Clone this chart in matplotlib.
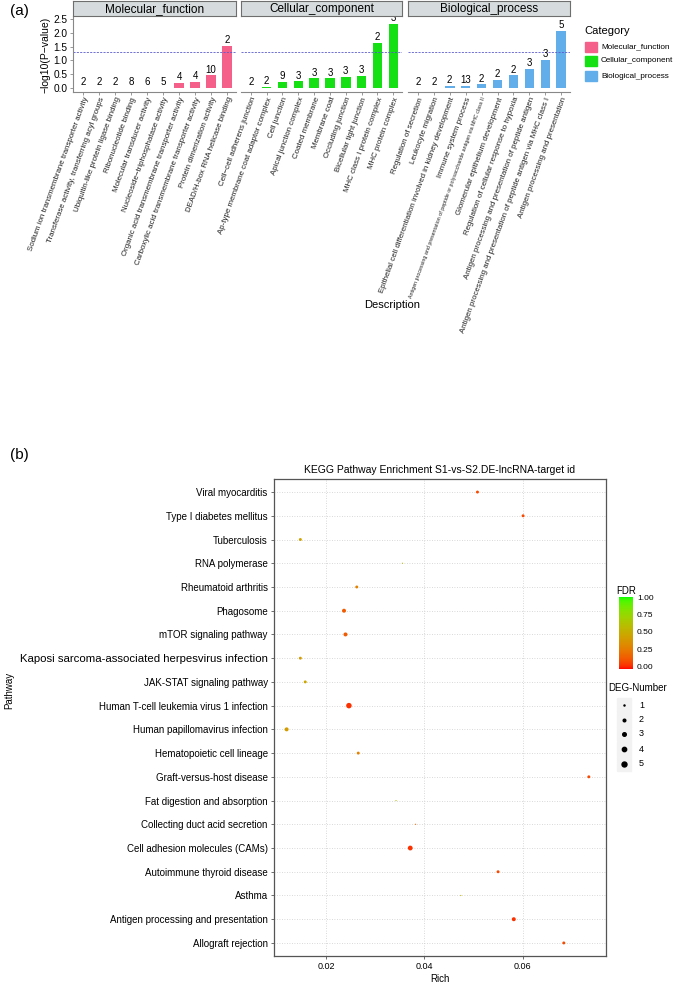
import numpy as np
import matplotlib
matplotlib.use("Agg")
import matplotlib.pyplot as plt
from matplotlib.colors import ListedColormap
from matplotlib.patches import Rectangle
from matplotlib.lines import Line2D

plt.rcParams['font.family'] = ['Liberation Sans', 'DejaVu Sans']

# ---------------- data: panel (a) ----------------
mf_terms = ["Sodium ion transmembrane transporter activity",
            "Transferase activity, transferring acyl groups",
            "Ubiquitin-like protein ligase binding",
            "Ribonucleotide binding",
            "Molecular transducer activity",
            "Nucleoside\u2212triphosphatase activity",
            "Organic acid transmembrane transporter activity",
            "Carboxylic acid transmembrane transporter activity",
            "Protein dimerization activity",
            "DEAD/H-box RNA helicase binding"]
mf_values = [0.0, 0.0, 0.0, 0.0, 0.0, 0.0, 0.2, 0.23, 0.46, 1.53]
mf_counts = [2, 2, 2, 8, 6, 5, 4, 4, 10, 2]

cc_terms = ["Cell\u2212cell adherens junction",
            "Ap-type membrane coat adaptor complex",
            "Cell junction",
            "Apical junction complex",
            "Coated membrane",
            "Membrane coat",
            "Occluding junction",
            "Bicellular tight junction",
            "MHC class I protein complex",
            "MHC protein complex"]
cc_values = [0.0, 0.03, 0.22, 0.24, 0.35, 0.35, 0.4, 0.44, 1.65, 2.33]
cc_counts = [2, 2, 9, 3, 3, 3, 3, 3, 2, 3]

bp_terms = ["Regulation of secretion",
            "Leukocyte migration",
            "Epithelial cell differentiation involved in kidney development",
            "Immune system process",
            "Antigen processing and presentation of peptide or polysaccharide antigen via MHC class II",
            "Glomerular epithelium development",
            "Regulation of cellular response to hypoxia",
            "Antigen processing and presentation of peptide antigen",
            "Antigen processing and presentation of peptide antigen via MHC class I",
            "Antigen processing and presentation"]
bp_values = [0.0, 0.0, 0.07, 0.08, 0.13, 0.29, 0.46, 0.70, 1.02, 2.07]
bp_counts = [2, 2, 2, 13, 2, 2, 2, 3, 3, 5]

categories = ["Molecular_function", "Cellular_component", "Biological_process"]
cat_colors = ["#F5608A", "#14E014", "#62AEEA"]
threshold = 1.301

# ---------------- data: panel (b) ----------------
pathways = ["Viral myocarditis", "Type I diabetes mellitus", "Tuberculosis",
            "RNA polymerase", "Rheumatoid arthritis", "Phagosome",
            "mTOR signaling pathway",
            "Kaposi sarcoma-associated herpesvirus infection",
            "JAK-STAT signaling pathway",
            "Human T-cell leukemia virus 1 infection",
            "Human papillomavirus infection", "Hematopoietic cell lineage",
            "Graft-versus-host disease", "Fat digestion and absorption",
            "Collecting duct acid secretion", "Cell adhesion molecules (CAMs)",
            "Autoimmune thyroid disease", "Asthma",
            "Antigen processing and presentation", "Allograft rejection"]
rich = [0.0508, 0.0601, 0.0147, 0.0355, 0.0262, 0.0236, 0.0239, 0.0147,
        0.0157, 0.0246, 0.0119, 0.0265, 0.0735, 0.0342, 0.0382, 0.0371,
        0.0550, 0.0474, 0.0582, 0.0684]
fdr = [0.1, 0.1, 0.45, 0.6, 0.3, 0.15, 0.15, 0.42, 0.48, 0.05, 0.42, 0.3,
       0.1, 0.6, 0.2, 0.05, 0.1, 0.55, 0.05, 0.1]
deg_number = [2, 2, 2, 1, 2, 3, 3, 2, 2, 5, 3, 2, 2, 1, 1, 4, 2, 1, 3, 2]
rich_ticks = [0.02, 0.04, 0.06]

# ---------------- helpers ----------------
W, H = 677, 989


def ax_px(l, t, r, b):
    return fig.add_axes([l / W, 1 - b / H, (r - l) / W, (b - t) / H])


def srgb_to_lab(rgb):
    c = np.asarray(rgb, float)
    lin = np.where(c <= 0.04045, c / 12.92, ((c + 0.055) / 1.055) ** 2.4)
    M = np.array([[0.4124, 0.3576, 0.1805], [0.2126, 0.7152, 0.0722],
                  [0.0193, 0.1192, 0.9505]])
    xyz = M @ lin / np.array([0.95047, 1.0, 1.08883])
    f = np.where(xyz > 0.008856, np.cbrt(xyz), 7.787 * xyz + 16 / 116)
    return np.array([116 * f[1] - 16, 500 * (f[0] - f[1]), 200 * (f[1] - f[2])])


def lab_to_srgb(lab):
    L, a, b = lab
    fy = (L + 16) / 116
    fx = fy + a / 500
    fz = fy - b / 200
    f = np.array([fx, fy, fz])
    xyz = np.where(f ** 3 > 0.008856, f ** 3, (f - 16 / 116) / 7.787)
    xyz = xyz * np.array([0.95047, 1.0, 1.08883])
    Mi = np.array([[3.2406, -1.5372, -0.4986], [-0.9689, 1.8758, 0.0415],
                   [0.0557, -0.2040, 1.0570]])
    lin = np.clip(Mi @ xyz, 0, 1)
    c = np.where(lin <= 0.0031308, 12.92 * lin, 1.055 * lin ** (1 / 2.4) - 0.055)
    return np.clip(c, 0, 1)


lab_r = srgb_to_lab([1, 0, 0])
lab_g = srgb_to_lab([0, 1, 0])
cols = [lab_to_srgb(lab_r + (lab_g - lab_r) * t) for t in np.linspace(0, 1, 256)]
cmap = ListedColormap(cols)

fig = plt.figure(figsize=(W / 100, H / 100), dpi=100)

# ---------------- panel (a) ----------------
fig.text(10 / W, 1 - 11 / H, "(a)", fontsize=11, va='center', ha='left')
panels = [(73, 236), (241, 402), (408, 570)]
term_sets = [mf_terms, cc_terms, bp_terms]
val_sets = [mf_values, cc_values, bp_values]
cnt_sets = [mf_counts, cc_counts, bp_counts]
for i, ((l, r), terms, vals, cnts) in enumerate(zip(panels, term_sets, val_sets, cnt_sets)):
    ax = ax_px(l, 17, r, 92)
    x = np.arange(len(terms))
    ax.bar(x, vals, width=0.6, color=cat_colors[i])
    for xi, v, c in zip(x, vals, cnts):
        ax.text(xi, v + 0.03, str(c), ha='center', va='bottom', fontsize=7,
                clip_on=True)
    ax.axhline(threshold, color='#5A5ACD', lw=0.6, ls=(0, (2.5, 1.5)))
    ax.set_xlim(-0.62, 9.55)
    ax.set_ylim(-0.145, 2.58)
    ax.set_xticks(x)
    ax.set_xticklabels([])
    for xi, t in zip(x, terms):
        fs = 3.8 if len(t) > 75 else 5.7
        ax.text(xi, -0.3, t, rotation=70, ha='right', va='top',
                rotation_mode='anchor', fontsize=fs, transform=ax.transData,
                color='#222222')
    for s in ['top', 'right']:
        ax.spines[s].set_visible(False)
    ax.spines['bottom'].set_color('#888888')
    ax.spines['bottom'].set_linewidth(0.8)
    ax.tick_params(axis='x', length=2.5, color='#888888', width=0.6)
    if i == 0:
        ax.spines['left'].set_color('#888888')
        ax.spines['left'].set_linewidth(0.8)
        ax.set_yticks([0, 0.5, 1.0, 1.5, 2.0, 2.5])
        ax.set_yticklabels(["0.0", "0.5", "1.0", "1.5", "2.0", "2.5"], fontsize=7.3)
        ax.tick_params(axis='y', length=2.5, color='#888888', width=0.6, pad=1.5)
        ax.set_ylabel("\u2212log10(P\u2212value)", fontsize=7.5, labelpad=2)
    else:
        ax.spines['left'].set_visible(False)
        ax.set_yticks([])
    # strip
    strip = ax_px(l, 1, r, 16)
    strip.set_xticks([])
    strip.set_yticks([])
    strip.set_facecolor('#D6DCDD')
    for s in strip.spines.values():
        s.set_color('#6E6E6E')
        s.set_linewidth(0.8)
    strip.text(0.5, 0.45, categories[i], ha='center', va='center', fontsize=8.5,
               transform=strip.transAxes)

fig.text(392 / W, 1 - 305 / H, "Description", ha='center', va='center', fontsize=8)

# category legend
fig.text(584 / W, 1 - 31 / H, "Category", fontsize=8, va='center', ha='left')
key_tops = [42, 56, 71]
for kt, c, name in zip(key_tops, cat_colors, categories):
    fig.patches.append(Rectangle((585 / W, 1 - (kt + 10) / H), 12 / W, 10 / H,
                                 transform=fig.transFigure, color=c))
    fig.text(601 / W, 1 - (kt + 5) / H, name, fontsize=5.9, va='center', ha='left')

# ---------------- panel (b) ----------------
fig.text(10 / W, 1 - 455 / H, "(b)", fontsize=11, va='center', ha='left')
axb = ax_px(274, 479, 606, 956)
yp = np.arange(len(pathways))[::-1]
d2 = 1.44 + (np.array(deg_number) - 1) * (30.25 - 1.44) / 4
size_pts = (np.sqrt(d2) * 0.72) ** 2
axb.scatter(rich, yp, s=size_pts, c=fdr, cmap=cmap, vmin=0, vmax=1,
            linewidths=0, zorder=3)
axb.set_xlim(0.00933, 0.0770)
axb.set_ylim(-0.55, len(pathways) - 0.45)
axb.set_yticks(yp)
axb.set_yticklabels(pathways, fontsize=7)
for lab in axb.get_yticklabels():
    if lab.get_text().startswith("Kaposi"):
        lab.set_fontsize(8.2)
axb.set_xticks(rich_ticks)
axb.set_xticklabels(["0.02", "0.04", "0.06"], fontsize=6.5)
axb.tick_params(length=2.5, color='#555555', width=0.6, pad=2)
axb.grid(True, ls=(0, (1, 2)), color='#CCCCCC', lw=0.6)
axb.set_axisbelow(True)
for s in axb.spines.values():
    s.set_color('#555555')
    s.set_linewidth(0.9)
axb.set_title("KEGG Pathway Enrichment S1-vs-S2.DE-lncRNA-target id",
              fontsize=7.5, pad=4)
axb.set_xlabel("Rich", fontsize=7, labelpad=2)
fig.text(9 / W, 1 - 690 / H, "Pathway", rotation=90, fontsize=7,
         ha='center', va='center')

# FDR colorbar
cax = ax_px(619, 597, 633, 669)
grad = np.linspace(0, 1, 256).reshape(-1, 1)
cax.imshow(grad, aspect='auto', cmap=cmap, origin='lower', extent=[0, 1, 0, 1])
cax.set_xticks([])
cax.set_yticks([])
for s in cax.spines.values():
    s.set_visible(False)
fig.text(616 / W, 1 - 591 / H, "FDR", fontsize=7, va='center', ha='left')
for v, lab in zip([0, 0.25, 0.5, 0.75, 1.0], ["0.00", "0.25", "0.50", "0.75", "1.00"]):
    ypix = 669 - v * (669 - 597) - 1.5 + 3 * v
    fig.text(637 / W, 1 - ypix / H, lab, fontsize=6, va='center', ha='left')

# DEG-Number legend
fig.text(608 / W, 1 - 688 / H, "DEG-Number", fontsize=7, va='center', ha='left')
leg_n = [1, 2, 3, 4, 5]
leg_y = [705, 720, 734, 749, 764]
for n, yk in zip(leg_n, leg_y):
    fig.patches.append(Rectangle((617 / W, 1 - (yk + 7) / H), 14 / W, 14 / H,
                                 transform=fig.transFigure, color='#F2F2F2'))
    dd = np.sqrt(1.44 + (n - 1) * (30.25 - 1.44) / 4) * 0.65
    fig.lines.append(Line2D([624 / W], [1 - yk / H], marker='o',
                            markersize=dd, color='black', lw=0,
                            transform=fig.transFigure))
    fig.text(639 / W, 1 - yk / H, str(n), fontsize=6.5, va='center', ha='left')

fig.savefig("out.png", dpi=100)
